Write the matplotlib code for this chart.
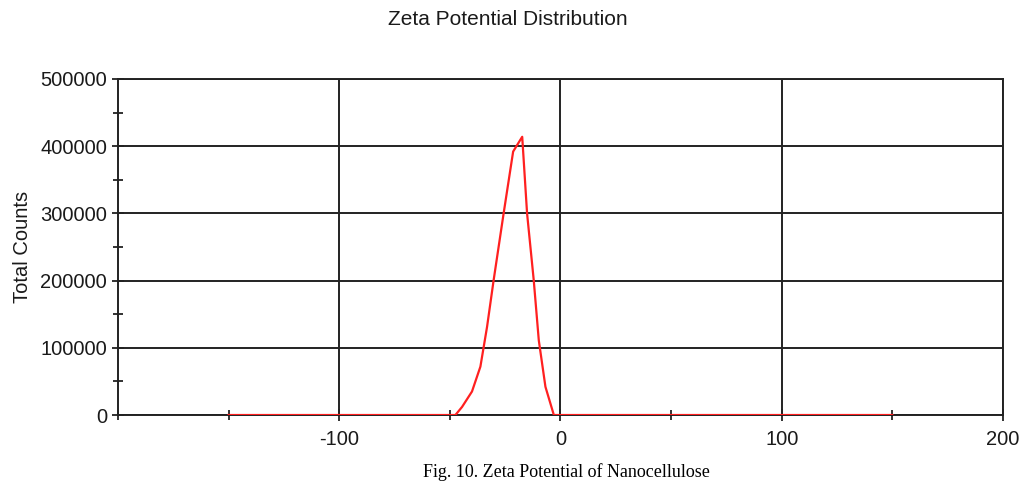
import matplotlib
matplotlib.use("Agg")
import matplotlib.pyplot as plt
from matplotlib.ticker import MultipleLocator

plt.rcParams['font.family'] = ['Liberation Sans', 'DejaVu Sans']
plt.rcParams['axes.unicode_minus'] = False  # plain hyphen like the original

# Zeta potential (mV) and total counts
zeta = [-150, -50, -47.5, -44.5, -40, -36.2, -33.2, -30.2, -25.7, -21.4,
        -17.3, -15.1, -12.1, -9.8, -6.8, -3.0, 0, 150]
counts = [0, 0, 0, 12000, 35000, 72000, 131000, 201000, 300000, 392000,
          414000, 300000, 201000, 111000, 42000, 0, 0, 0]

x_ticks = [-100, 0, 100, 200]
y_ticks = [0, 100000, 200000, 300000, 400000, 500000]

fig = plt.figure(figsize=(10.27, 4.87), dpi=100)
ax = fig.add_axes([0.1149, 0.1478, 0.8617, 0.69])

ax.plot(zeta, counts, color='#ff2020', lw=1.6, zorder=3)

ax.set_xlim(-200, 200)
ax.set_ylim(0, 500000)
ax.set_xticks(x_ticks)
ax.set_yticks(y_ticks)
ax.xaxis.set_minor_locator(MultipleLocator(50))
ax.yaxis.set_minor_locator(MultipleLocator(50000))
ax.tick_params(which='both', direction='inout', color='#222222', width=1.3)
ax.tick_params(which='major', length=8, labelsize=14.5, pad=7, labelcolor='#1a1a1a')
ax.tick_params(axis='y', which='major', pad=4)
ax.tick_params(which='minor', length=7)
ax.grid(True, which='major', color='#222222', lw=1.4)
for s in ax.spines.values():
    s.set_color('#222222')
    s.set_linewidth(1.4)

ax.set_ylabel('Total Counts', fontsize=14.5, labelpad=6, color='#1a1a1a')
fig.text(0.494, 0.96, 'Zeta Potential Distribution', ha='center', va='center',
         fontsize=15, color='#1a1a1a')
fig.text(0.552, 0.03, 'Fig. 10. Zeta Potential of Nanocellulose', ha='center', va='center',
         fontsize=13, family=['Liberation Serif', 'DejaVu Serif'])

fig.savefig('out.png', dpi=100)
